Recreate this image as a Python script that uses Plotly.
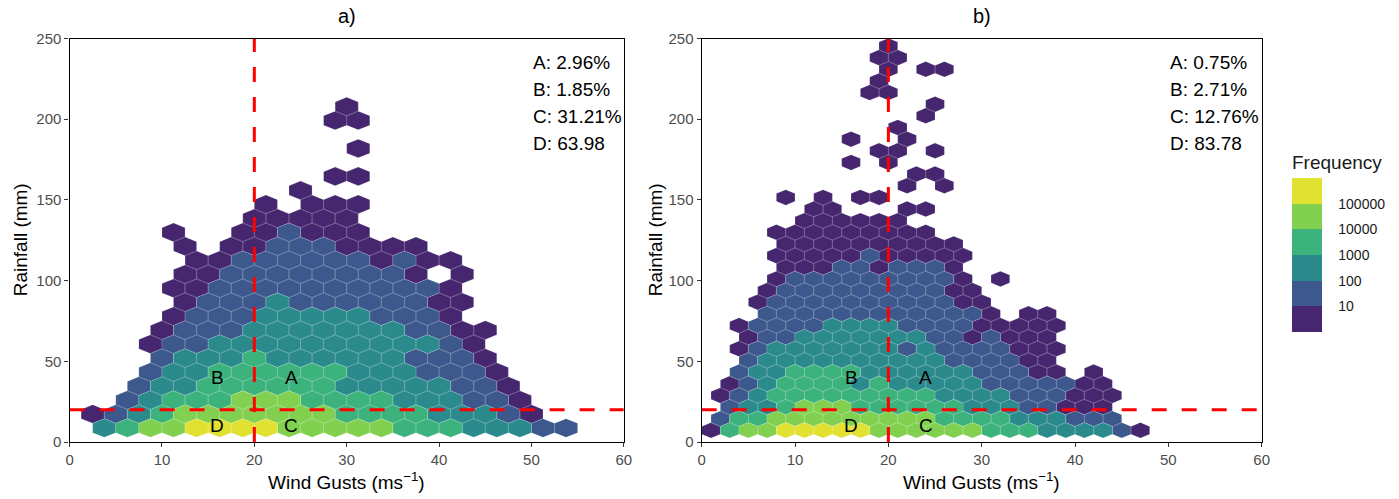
import plotly.graph_objects as go

# ---------------- data ----------------
LEVEL_COLORS = ["#46266E", "#3C588C", "#2A8A8C", "#3CB27D", "#82D050", "#E1E132"]
FREQ_LABELS = ["10", "100", "1000", "10000", "100000"]

# hexbin grid: (row k, first column j, level string; '.' = empty)
A_HEX_W = 2.5
A_HEX_DY = 30 / 12 ** 0.5
A_ROWS = [
    (24, 12, "1"),
    (23, 11, "11"),
    (21, 12, "1"),
    (19, 11, "11"),
    (18, 10, "1"),
    (17, 8, "1.111"),
    (16, 8, "11111"),
    (15, 4, "1..112111"),
    (14, 5, "1.112221111"),
    (13, 5, "112222221211"),
    (12, 5, "11222222221.1"),
    (11, 4, "1122222222221"),
    (10, 5, "1222322222211"),
    (9, 4, "1222333332221"),
    (8, 4, "122233333332211"),
    (7, 3, "122333333333321"),
    (6, 4, "233343333332221"),
    (5, 3, "2334444443332221"),
    (4, 3, "23344444433333221"),
    (3, 2, "234445554444333221"),
    (2, 1, "12345555555444433321"),
    (1, 1, "345566665555544433322"),
]

B_HEX_W = 2.0
B_HEX_DY = 25 / 12 ** 0.5
B_ROWS = [
    (34, 10, "1"),
    (33, 9, "11"),
    (32, 10, "1.11"),
    (31, 9, "1"),
    (30, 9, "11"),
    (29, 12, "1"),
    (28, 12, "1"),
    (27, 10, "1"),
    (26, 8, "1..1"),
    (25, 9, "11.1"),
    (24, 8, "1.1"),
    (23, 11, "11"),
    (22, 11, "1.1"),
    (21, 4, "1.1.11"),
    (20, 6, "11...11"),
    (19, 5, "111111"),
    (18, 4, "111111111"),
    (17, 4, "1111111111"),
    (16, 4, "11111211111"),
    (15, 4, "1112212221"),
    (14, 4, "12222222221.1"),
    (13, 3, "122222222211"),
    (12, 3, "1222222222211"),
    (11, 3, "2222222222221.11"),
    (10, 2, "122223333222211111"),
    (9, 2, "12233333332212111"),
    (8, 2, "123333333232222111"),
    (7, 2, "23333333333222211"),
    (6, 2, "233444433333322211.1"),
    (5, 1, "123444434333332222211"),
    (4, 1, "1234444444443333222111"),
    (3, 1, "233455544444433322111"),
    (2, 1, "2445555555554444333222"),
    (1, 0, "145566666555555444333321"),
]

A_PCT = ["A: 2.96%", "B: 1.85%", "C: 31.21%", "D: 63.98"]
B_PCT = ["A: 0.75%", "B: 2.71%", "C: 12.76%", "D: 83.78"]
QUAD = [("A", 24, 40), ("B", 16, 40), ("C", 24, 10), ("D", 16, 10)]
THRESH_X = 20
THRESH_Y = 20
X_TICKS = [0, 10, 20, 30, 40, 50, 60]
Y_TICKS = [0, 50, 100, 150, 200, 250]

FONT = "Liberation Sans, Arial, sans-serif"
W, H = 1399, 499

fig = go.Figure()


def add_hexes(rows, w, dy, xa, ya):
    polys = {lv: ([], []) for lv in range(1, 7)}
    for k, j0, s in rows:
        cy = k * dy
        off = w / 2 if k % 2 else 0.0
        for i, ch in enumerate(s):
            if ch not in "123456":
                continue
            lv = int(ch)
            cx = (j0 + i) * w + off
            xs = [cx, cx + w / 2, cx + w / 2, cx, cx - w / 2, cx - w / 2, cx, None]
            ys = [cy + 2 * dy / 3, cy + dy / 3, cy - dy / 3, cy - 2 * dy / 3,
                  cy - dy / 3, cy + dy / 3, cy + 2 * dy / 3, None]
            polys[lv][0].extend(xs)
            polys[lv][1].extend(ys)
    for lv in range(1, 7):
        xs, ys = polys[lv]
        if not xs:
            continue
        fig.add_trace(go.Scatter(
            x=xs, y=ys, mode="lines", fill="toself",
            fillcolor=LEVEL_COLORS[lv - 1],
            line=dict(color="rgba(255,255,255,0.28)", width=0.6),
            xaxis=xa, yaxis=ya, hoverinfo="skip", showlegend=False))


def add_thresholds(xa, ya):
    dash = "15px,15px"
    fig.add_trace(go.Scatter(x=[THRESH_X, THRESH_X], y=[0, 250], mode="lines",
                             line=dict(color="#FF0000", width=3, dash=dash),
                             xaxis=xa, yaxis=ya, hoverinfo="skip", showlegend=False))
    fig.add_trace(go.Scatter(x=[0, 60], y=[THRESH_Y, THRESH_Y], mode="lines",
                             line=dict(color="#FF0000", width=3, dash=dash),
                             xaxis=xa, yaxis=ya, hoverinfo="skip", showlegend=False))


add_hexes(A_ROWS, A_HEX_W, A_HEX_DY, "x", "y")
add_thresholds("x", "y")
add_hexes(B_ROWS, B_HEX_W, B_HEX_DY, "x2", "y2")
add_thresholds("x2", "y2")

# colour legend
n = len(LEVEL_COLORS)
cs = []
for i, c in enumerate(LEVEL_COLORS):
    cs.append([i / n, c])
    cs.append([(i + 1) / n, c])
fig.add_trace(go.Scatter(
    x=[30], y=[-500], mode="markers", xaxis="x2", yaxis="y2",
    marker=dict(color=[0], colorscale=cs, cmin=0, cmax=n, size=1, opacity=0,
                showscale=True,
                colorbar=dict(
                    x=1292 / W, xanchor="left", xpad=0,
                    y=1 - 332 / H, yanchor="bottom", ypad=0,
                    len=180 / H, lenmode="fraction", thickness=30,
                    outlinewidth=0, ticks="outside", ticklen=14,
                    tickcolor="rgba(0,0,0,0)",
                    tickvals=[1, 2, 3, 4, 5], ticktext=FREQ_LABELS,
                    tickfont=dict(family=FONT, size=14, color="#1a1a1a"),
                    title=dict(text="Frequency", side="top",
                               font=dict(family=FONT, size=19, color="#1a1a1a")))),
    hoverinfo="skip", showlegend=False))

axis_common = dict(showgrid=False, zeroline=False, showline=True, mirror=True,
                   linecolor="black", linewidth=1.4, ticks="outside", ticklen=4,
                   tickwidth=1.2, tickcolor="#333333", automargin=False,
                   tickfont=dict(family=FONT, size=15, color="#4D4D4D"))

xa_dom = [69.6 / W, 623.8 / W]
xb_dom = [701.7 / W, 1261.7 / W]
y_dom = [(H - 442) / H, (H - 38.5) / H]

fig.update_layout(
    width=W, height=H,
    margin=dict(l=0, r=0, t=0, b=0, autoexpand=False),
    paper_bgcolor="white", plot_bgcolor="white",
    font=dict(family=FONT),
    xaxis=dict(domain=xa_dom, range=[0, 60], tickvals=X_TICKS, anchor="y", **axis_common),
    yaxis=dict(domain=y_dom, range=[0, 250], tickvals=Y_TICKS, anchor="x", **axis_common),
    xaxis2=dict(domain=xb_dom, range=[0, 60], tickvals=X_TICKS, anchor="y2", **axis_common),
    yaxis2=dict(domain=y_dom, range=[0, 250], tickvals=Y_TICKS, anchor="x2", **axis_common),
    showlegend=False,
)

ann = []
for xr, yr, pct in (("x", "y", A_PCT), ("x2", "y2", B_PCT)):
    for i, t in enumerate(pct):
        ann.append(dict(text=t, x=50, y=235 - i * 16.7, xref=xr, yref=yr,
                        xanchor="left", yanchor="middle", showarrow=False,
                        font=dict(family=FONT, size=19, color="black")))
    for lab, qx, qy in QUAD:
        ann.append(dict(text=lab, x=qx, y=qy, xref=xr, yref=yr,
                        xanchor="center", yanchor="middle", showarrow=False,
                        font=dict(family=FONT, size=19, color="black")))

for title, dom in (("a)", xa_dom), ("b)", xb_dom)):
    cx = (dom[0] + dom[1]) / 2
    ann.append(dict(text=title, x=cx, y=1 - 16 / H, xref="paper", yref="paper",
                    xanchor="center", yanchor="middle", showarrow=False,
                    font=dict(family=FONT, size=20, color="black")))
    ann.append(dict(text="Wind Gusts (ms<sup>\u22121</sup>)", x=cx, y=1 - 481 / H,
                    xref="paper", yref="paper", xanchor="center", yanchor="middle",
                    showarrow=False, font=dict(family=FONT, size=19, color="black")))

for px in (20, 655):
    ann.append(dict(text="Rainfall (mm)", x=px / W, y=(y_dom[0] + y_dom[1]) / 2,
                    xref="paper", yref="paper", xanchor="center", yanchor="middle",
                    textangle=-90, showarrow=False,
                    font=dict(family=FONT, size=19, color="black")))

fig.update_layout(annotations=ann)
fig.write_html("out.html", config={"displayModeBar": False},
               post_script="document.body.style.margin='0';document.body.style.overflow='hidden';")
